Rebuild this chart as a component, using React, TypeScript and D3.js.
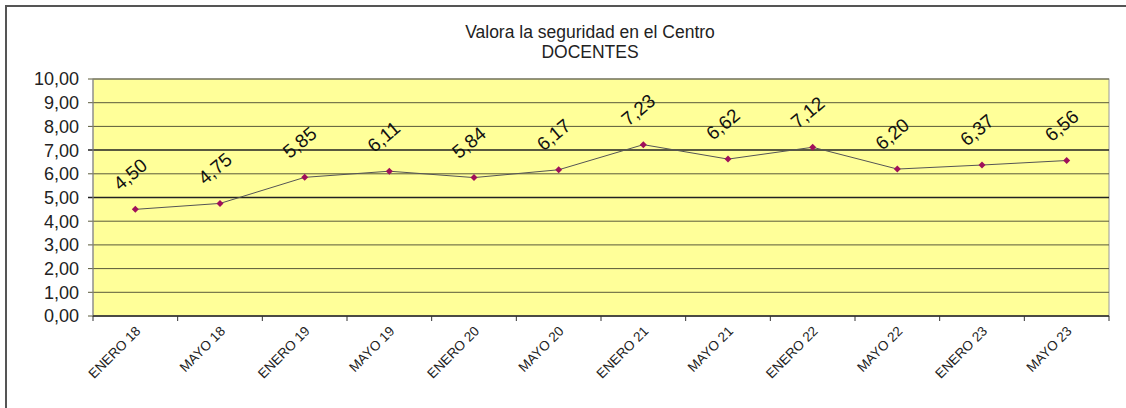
import React from "react";
import * as d3 from "d3";

const categories = ["ENERO 18","MAYO 18","ENERO 19","MAYO 19","ENERO 20","MAYO 20","ENERO 21","MAYO 21","ENERO 22","MAYO 22","ENERO 23","MAYO 23"];
const values = [4.50,4.75,5.85,6.11,5.84,6.17,7.23,6.62,7.12,6.20,6.37,6.56];
const yTicks = [0,1,2,3,4,5,6,7,8,9,10];
const titleLines = ["Valora la seguridad en el Centro", "DOCENTES"];

const W = 1126, H = 408;
const M = { left: 93, right: 1109, top: 79, bottom: 316 };
const fmt = (v: number) => v.toFixed(2).replace(".", ",");

export default function App() {
  const x = d3.scaleBand<string>().domain(categories).range([M.left, M.right]);
  const y = d3.scaleLinear().domain([0, 10]).range([M.bottom, M.top]);
  const cx = (c: string) => (x(c) as number) + x.bandwidth() / 2;
  const line = d3.line<number>().x((_, i) => cx(categories[i])).y((d) => y(d));
  const font = "Arial, 'Liberation Sans', sans-serif";
  const boundaries = d3.range(categories.length + 1).map((i) => M.left + i * x.bandwidth());

  return (
    <svg width={W} height={H} style={{ position: "absolute", left: 0, top: 0 }} fontFamily={font}>
      <rect x={0} y={0} width={W} height={H} fill="#fff" />
      <path d={`M6,${H} V6 H${W}`} fill="none" stroke="#555" strokeWidth={2} />
      {titleLines.map((t, i) => (
        <text key={i} x={590} y={38 + i * 20} textAnchor="middle" fontSize={17.5} fill="#222">{t}</text>
      ))}
      <rect x={M.left} y={M.top} width={M.right - M.left} height={M.bottom - M.top} fill="#ffff99" stroke="#999" strokeWidth={1} />
      {yTicks.map((t) => (
        <g key={t}>
          <line x1={M.left - 5} x2={M.right} y1={y(t)} y2={y(t)}
            stroke={t === 5 || t === 7 ? "#222" : "#5a5a3a"} strokeWidth={t === 5 || t === 7 ? 1.5 : 1} />
          <text x={M.left - 14} y={y(t)} dy="0.36em" textAnchor="end" fontSize={18} fill="#222">{fmt(t)}</text>
        </g>
      ))}
      <line x1={M.left} x2={M.left} y1={M.top} y2={M.bottom} stroke="#888" />
      <line x1={M.left} x2={M.right} y1={M.bottom} y2={M.bottom} stroke="#333" strokeWidth={1.5} />
      {boundaries.map((b, i) => (
        <line key={i} x1={b} x2={b} y1={M.bottom} y2={M.bottom + 5} stroke="#333" />
      ))}
      {categories.map((c) => (
        <text key={c} transform={`translate(${cx(c) + 6},${M.bottom + 16}) rotate(-45)`} textAnchor="end"
          fontSize={13.5} fill="#222">{c}</text>
      ))}
      <path d={line(values) || ""} fill="none" stroke="#555" strokeWidth={1} />
      {values.map((v, i) => {
        const px = cx(categories[i]), py = y(v);
        return (
          <g key={i}>
            <path d={`M${px},${py - 3.5}L${px + 3.5},${py}L${px},${py + 3.5}L${px - 3.5},${py}Z`} fill="#a0105a" />
            <text transform={`translate(${px - 15},${py - 18}) rotate(-40)`} fontSize={19} fill="#111">{fmt(v)}</text>
          </g>
        );
      })}
    </svg>
  );
}
